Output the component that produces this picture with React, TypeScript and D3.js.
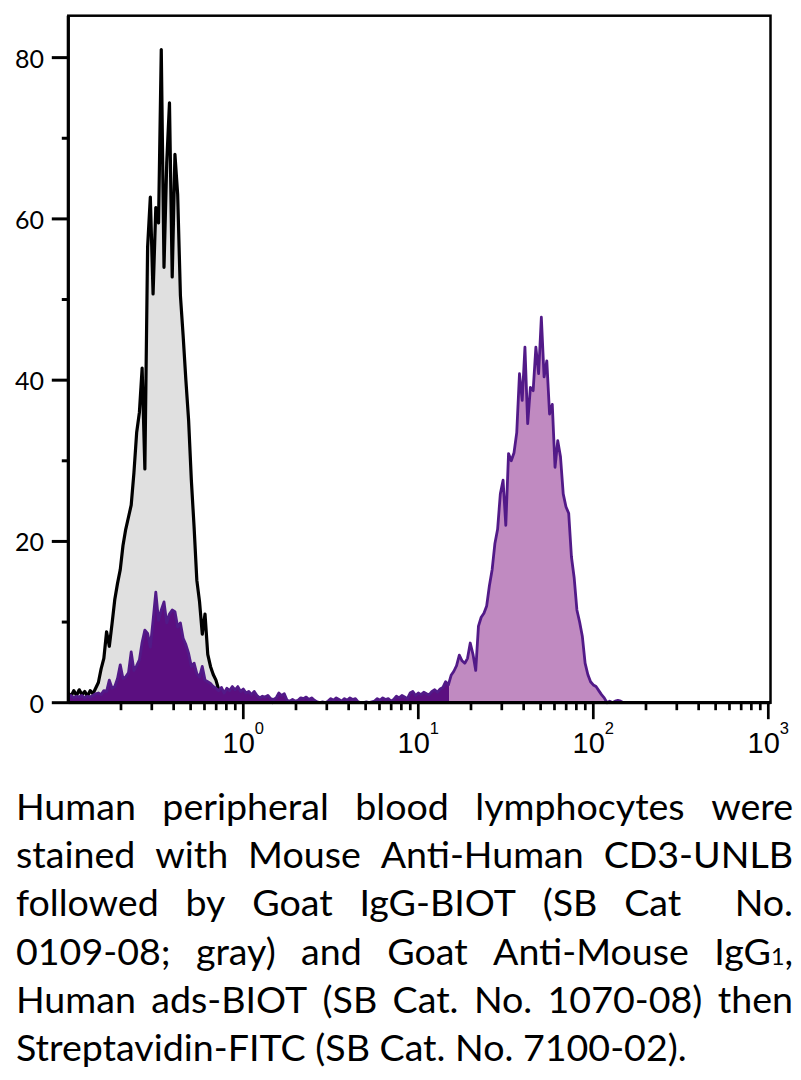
import React, { useEffect, useRef } from 'react'
import * as d3 from 'd3'

// log-spaced histogram channels, 64 per decade, first channel at 10^-1
const binStartLog = -1
const binsPerDecade = 64

// isotype control (gray, black outline)
const isotypeCounts = [
  1.2, 0.8, 1.5, 0.9, 1.6, 1.0, 1.4, 0.8, 1.5, 1.1,
  1.8, 2.5, 4.2, 5.5, 8.8, 7.0, 9.8, 12.8, 14.8, 16.5,
  19.5, 21.5, 23.0, 24.5, 28.5, 33.5, 36.0, 41.5, 29.0, 56.5,
  62.7, 50.7, 61.4, 59.5, 81.0, 54.0, 67.0, 74.4, 52.8, 68.0,
  63.0, 50.5, 45.5, 40.0, 35.0, 27.6, 21.8, 15.2, 12.5, 8.5,
  11.0, 6.0, 4.5, 3.5, 2.8, 1.6, 1.2, 0.8, 1.0, 0.6,
  0.9, 0.7, 0.9, 1.2, 1.3, 0.8, 1.0, 0.5, 0.4, 0.3,
  0.2, 0.3, 0.1, 0.2, 0.1, 0
]

// CD3 stained sample (purple)
const stainedCounts = [
  0.7, 0.9, 0.6, 0.8, 0.7, 0.9, 0.6, 0.8, 0.7, 0.9,
  1.1, 1.2, 1.0, 1.5, 1.4, 2.8, 1.8, 2.0, 3.0, 4.7,
  3.0, 3.2, 3.7, 6.3, 4.0, 4.6, 5.3, 7.5, 9.0, 8.6,
  6.9, 10.2, 13.7, 10.2, 11.5, 12.5, 9.9, 11.0, 11.5, 11.3,
  9.4, 9.9, 8.0, 7.2, 6.1, 4.5, 4.9, 3.6, 3.2, 4.5,
  2.8, 2.6, 2.4, 2.0, 1.8, 1.5, 1.9, 1.2, 1.8, 1.5,
  2.0, 1.6, 2.0, 1.4, 1.7, 1.2, 1.4, 1.0, 1.4, 0.9,
  0.6, 0.8, 0.7, 0.9, 0.5, 0.4, 0.6, 1.2, 0.9, 1.1,
  0.3, 0.2, 0.4, 0.2, 0.3, 0.6, 0.5, 0.7, 0.4, 0.6,
  0.3, 0.1, 0, 0.1, 0, 0.2, 0.5, 0.3, 0.6, 0.4,
  0.2, 0.5, 0.3, 0.6, 0.4, 0.5, 0.1, 0, 0, 0.1,
  0, 0.1, 0.2, 0.5, 0.3, 0.6, 0.4, 0.5, 0.2, 0.4,
  0.8, 0.6, 0.9, 0.7, 0.5, 1.2, 1.4, 0.9, 1.2, 1.0,
  1.3, 1.1, 1.0, 1.4, 1.6, 1.3, 1.7, 1.9, 2.6, 2.2,
  3.4, 3.9, 4.6, 5.9, 5.2, 4.9, 5.5, 7.4, 6.0, 4.0,
  9.5, 10.6, 11.1, 12.0, 14.5, 16.5, 19.7, 21.5, 25.9, 27.6,
  22.0, 30.9, 30.0, 31.0, 33.5, 40.8, 37.5, 44.1, 34.6, 39.1,
  38.7, 44.1, 40.8, 47.8, 40.4, 42.4, 35.8, 37.0, 29.2, 32.5,
  30.5, 25.9, 24.3, 23.5, 18.1, 15.5, 11.5, 10.0, 8.2, 4.9,
  3.5, 2.6, 2.2, 2.0, 1.5, 1.0, 0.6, 0, 0.2, 0,
  0.2, 0.3, 0.2, 0
]

const yTicks = [0, 20, 40, 60, 80]
const yMinorTicks = [10, 30, 50, 70]
const xDecades = [0, 1, 2, 3]
// channel value where the purple fill turns light
const colorSplitAt = 15

const captionLines = [
  'Human peripheral blood lymphocytes were',
  'stained with Mouse Anti-Human CD3-UNLB',
  'followed by Goat IgG-BIOT (SB Cat  No.',
  '0109-08; gray) and Goat Anti-Mouse IgG_1,',
  'Human ads-BIOT (SB Cat. No. 1070-08) then',
  'Streptavidin-FITC (SB Cat. No. 7100-02).'
]

const W = 801
const H = 1080
const plotLeft = 68.3
const plotRight = 770.5
const plotTop = 15.7
const plotBottom = 702.7

const bodyFont = "Lato, 'Open Sans', sans-serif"
const tickFont = "'Liberation Sans Narrow', 'Liberation Sans', Arial, sans-serif"

const captionLeft = 16
const captionRight = 793
const captionFirstBaseline = 820
const captionLineHeight = 48.2
const captionSize = 37.6

function binValue(i: number) {
  return Math.pow(10, binStartLog + i / binsPerDecade)
}

export default function App() {
  const captionRef = useRef<SVGGElement>(null)

  const x = d3.scaleLog().domain([0.1, 1000]).range([plotLeft, 768.3])
  const y = d3.scaleLinear().domain([0, 85.2]).range([plotBottom, plotTop])

  const area = d3
    .area<number>()
    .x((d, i) => x(binValue(i)))
    .y0(y(0))
    .y1(d => y(d))
  const line = d3
    .line<number>()
    .x((d, i) => x(binValue(i)))
    .y(d => y(d))

  const minorX: number[] = []
  for (let d = -1; d < 3; d++) {
    for (let k = 2; k <= 9; k++) minorX.push(k * Math.pow(10, d))
  }

  const splitOffset = (x(colorSplitAt) - plotLeft) / (768.3 - plotLeft)

  useEffect(() => {
    const g = d3.select(captionRef.current)
    g.selectAll('*').remove()
    captionLines.forEach((ln, li) => {
      const yy = captionFirstBaseline + li * captionLineHeight
      const isLast = li === captionLines.length - 1
      if (isLast) {
        g.append('text').attr('x', captionLeft).attr('y', yy).text(ln)
        return
      }
      // justified: spread the leftover width over the word gaps
      const words = ln.split(' ')
      const nodes = words.map(w => {
        const t = g.append('text').attr('y', yy)
        const m = w.match(/^(.*)_(\d)(.*)$/)
        if (m) {
          t.append('tspan').text(m[1])
          t.append('tspan').attr('font-size', '0.62em').text(m[2])
          t.append('tspan').text(m[3])
        } else {
          t.text(w)
        }
        return t
      })
      const widths = nodes.map(t => (t.node() as SVGTextElement).getComputedTextLength())
      const total = d3.sum(widths)
      const gap = (captionRight - captionLeft - total) / (words.length - 1)
      let cx = captionLeft
      nodes.forEach((t, k) => {
        t.attr('x', cx)
        cx += widths[k] + gap
      })
    })
  }, [])

  return (
    <svg
      width={W}
      height={H}
      style={{ position: 'absolute', left: 0, top: 0, background: '#fff' }}
    >
      <defs>
        <linearGradient
          id="stainFill"
          gradientUnits="userSpaceOnUse"
          x1={plotLeft}
          x2={768.3}
          y1={0}
          y2={0}
        >
          <stop offset={0} stopColor="#5b0f80" />
          <stop offset={splitOffset} stopColor="#5b0f80" />
          <stop offset={splitOffset} stopColor="#c08ac1" />
          <stop offset={1} stopColor="#c08ac1" />
        </linearGradient>
      </defs>

      <path d={area(isotypeCounts) || ''} fill="#e0e0e0" />
      <path
        d={line(isotypeCounts) || ''}
        fill="none"
        stroke="#000"
        strokeWidth={3.2}
        strokeLinejoin="round"
      />
      <path d={area(stainedCounts) || ''} fill="url(#stainFill)" />
      <path
        d={line(stainedCounts) || ''}
        fill="none"
        stroke="#521a88"
        strokeWidth={2.8}
        strokeLinejoin="round"
      />

      {/* frame */}
      <rect
        x={plotLeft}
        y={plotTop}
        width={plotRight - plotLeft}
        height={plotBottom - plotTop}
        fill="none"
        stroke="#000"
        strokeWidth={2.5}
      />
      <line x1={plotLeft} x2={plotLeft} y1={plotTop} y2={plotBottom} stroke="#000" strokeWidth={3.2} />
      <line x1={plotLeft} x2={plotRight} y1={plotBottom} y2={plotBottom} stroke="#000" strokeWidth={3.2} />

      {/* y axis */}
      {yTicks.map(v => (
        <g key={'y' + v}>
          <line x1={plotLeft - 16.5} x2={plotLeft} y1={y(v)} y2={y(v)} stroke="#000" strokeWidth={3} />
          <text
            x={44}
            y={y(v)}
            textAnchor="end"
            dominantBaseline="central"
            fontFamily={bodyFont}
            fontSize={25}
            fill="#000"
          >
            {v}
          </text>
        </g>
      ))}
      {yMinorTicks.map(v => (
        <line key={'ym' + v} x1={plotLeft - 6.5} x2={plotLeft} y1={y(v)} y2={y(v)} stroke="#000" strokeWidth={3} />
      ))}

      {/* x axis */}
      {minorX.map(v => (
        <line key={'xm' + v} x1={x(v)} x2={x(v)} y1={plotBottom} y2={plotBottom + 7.5} stroke="#000" strokeWidth={2.7} />
      ))}
      {xDecades.map(d => (
        <g key={'x' + d}>
          <line
            x1={x(Math.pow(10, d))}
            x2={x(Math.pow(10, d))}
            y1={plotBottom}
            y2={plotBottom + 16.5}
            stroke="#000"
            strokeWidth={2.7}
          />
          <text
            x={x(Math.pow(10, d))}
            y={752.7}
            textAnchor="middle"
            fontFamily={tickFont}
            fontSize={29}
            fill="#000"
          >
            10
            <tspan dy={-19} fontSize={16.5}>
              {d}
            </tspan>
          </text>
        </g>
      ))}

      <g ref={captionRef} fontFamily={bodyFont} fontSize={captionSize} fill="#000" />
    </svg>
  )
}
